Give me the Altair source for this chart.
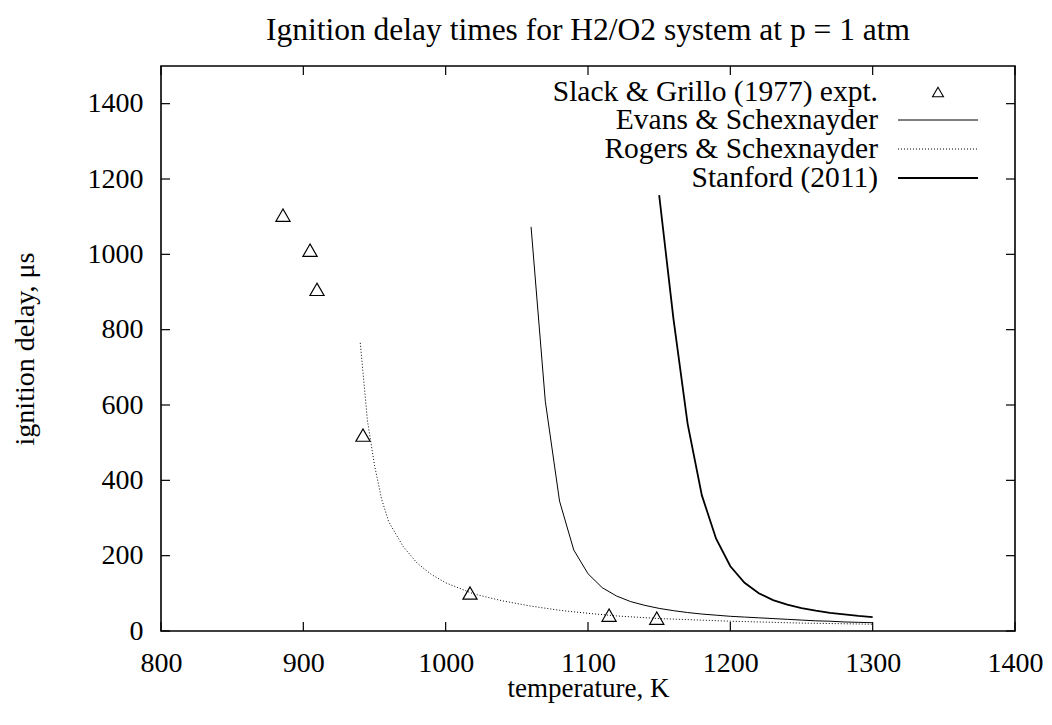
import altair as alt
import pandas as pd

W, H = 854, 565
FONT = "Liberation Serif"

# Slack & Grillo (1977) experimental points
slack_T = [885.7, 904.7, 909.6, 941.9, 1017.1, 1114.8, 1148.3]
slack_tau = [1104, 1011, 907, 520, 101, 42, 34]

# Evans & Schexnayder
evans_T = [1060, 1070, 1080, 1090, 1100, 1110, 1120, 1130, 1140, 1150, 1160, 1170,
           1180, 1190, 1200, 1210, 1220, 1230, 1240, 1250, 1260, 1270, 1280, 1290, 1300]
evans_tau = [1073, 610, 345, 215, 152, 115, 93, 78, 68, 60, 54, 49,
             45, 42, 39, 37, 35, 33, 31, 29, 27, 26, 24, 23, 22]

# Rogers & Schexnayder
rogers_T = [940, 945, 950, 955, 960, 970, 980, 990, 1000, 1020, 1040, 1060, 1080,
            1100, 1120, 1150, 1200, 1250, 1300]
rogers_tau = [765, 560, 440, 350, 290, 225, 180, 150, 128, 98, 80, 66, 55,
              47, 40, 33, 26, 21, 18]

# Stanford (2011)
stanford_T = [1150, 1160, 1170, 1180, 1190, 1200, 1210, 1220, 1230, 1240, 1250,
              1260, 1270, 1280, 1290, 1300]
stanford_tau = [1157, 830, 550, 360, 245, 172, 128, 100, 82, 70, 61, 54, 48, 44, 40, 37]

x_ticks = [800, 900, 1000, 1100, 1200, 1300, 1400]
y_ticks = [0, 200, 400, 600, 800, 1000, 1200, 1400]

legend_labels = ["Slack & Grillo (1977) expt.", "Evans & Schexnayder",
                 "Rogers & Schexnayder", "Stanford (2011)"]
title_text = "Ignition delay times for H2/O2 system at p = 1 atm"

xs = alt.Scale(domain=[800, 1400], nice=False, zero=False)
ys = alt.Scale(domain=[0, 1500], nice=False)

x_axis = alt.Axis(values=x_ticks, format="d", ticks=False, domain=False, grid=False,
                  labelFont=FONT, labelFontSize=28, labelColor="black", labelPadding=18,
                  labelFlush=False, labelOverlap=False,
                  title="temperature, K", titleFont=FONT, titleFontSize=27,
                  titleFontWeight="normal", titleColor="black",
                  titleX=W / 2, titleY=57, titleBaseline="middle", titleAlign="center")
y_axis = alt.Axis(values=y_ticks, format="d", ticks=False, domain=False, grid=False,
                  labelFont=FONT, labelFontSize=28, labelColor="black", labelPadding=18,
                  labelFlush=False, labelOverlap=False,
                  title="ignition delay, μs", titleFont=FONT, titleFontSize=28,
                  titleFontWeight="normal", titleColor="black",
                  titleX=-136, titleY=H / 2, titleBaseline="middle", titleAlign="center",
                  titleAngle=270)

def line_layer(T, tau, **style):
    df = pd.DataFrame({"T": T, "tau": tau})
    return alt.Chart(df).mark_line(color="black", **style).encode(
        x=alt.X("T:Q", scale=xs, axis=x_axis),
        y=alt.Y("tau:Q", scale=ys, axis=y_axis),
    )

evans = line_layer(evans_T, evans_tau, strokeWidth=1)
rogers = line_layer(rogers_T, rogers_tau, strokeWidth=1, strokeDash=[1, 2])
stanford = line_layer(stanford_T, stanford_tau, strokeWidth=1.8)

pts = alt.Chart(pd.DataFrame({"T": slack_T, "tau": slack_tau})).mark_point(
    shape="triangle-up", filled=False, color="black", strokeWidth=1.2, size=200, opacity=1
).encode(x=alt.X("T:Q", scale=xs, axis=x_axis), y=alt.Y("tau:Q", scale=ys, axis=y_axis))

# inside ticks on all four sides
xt = pd.DataFrame({"v": x_ticks})
yt = pd.DataFrame({"v": y_ticks})
tick_style = dict(color="black", strokeWidth=1.2)
tb = alt.Chart(xt).mark_rule(**tick_style).encode(
    x=alt.X("v:Q", scale=xs), y=alt.value(H), y2=alt.value(H - 9))
tt = alt.Chart(xt).mark_rule(**tick_style).encode(
    x=alt.X("v:Q", scale=xs), y=alt.value(0), y2=alt.value(9))
tl = alt.Chart(yt).mark_rule(**tick_style).encode(
    y=alt.Y("v:Q", scale=ys), x=alt.value(0), x2=alt.value(9))
tr = alt.Chart(yt).mark_rule(**tick_style).encode(
    y=alt.Y("v:Q", scale=ys), x=alt.value(W - 9), x2=alt.value(W))

# title as text above the plot
title = alt.Chart(pd.DataFrame({"t": [title_text]})).mark_text(
    align="center", baseline="alphabetic", font=FONT, fontSize=31.5, color="black"
).encode(text="t:N", x=alt.value(W / 2), y=alt.value(-26))

# legend (gnuplot style: label then sample)
row_y = [26, 54, 83, 112]
lx_text, lx0, lx1 = 717, 737, 817
legend_layers = []
for lab, yy in zip(legend_labels, row_y):
    legend_layers.append(
        alt.Chart(pd.DataFrame({"label": [lab]})).mark_text(
            align="right", baseline="middle", font=FONT, fontSize=29.5, color="black"
        ).encode(text="label:N", x=alt.value(lx_text), y=alt.value(yy))
    )
legend_layers.append(
    alt.Chart(pd.DataFrame({"label": [legend_labels[0]]})).mark_point(
        shape="triangle-up", filled=False, color="black", strokeWidth=1.1, size=120, opacity=1
    ).encode(x=alt.value((lx0 + lx1) / 2), y=alt.value(row_y[0]))
)
legend_layers.append(
    alt.Chart(pd.DataFrame({"label": [legend_labels[1]]})).mark_rule(color="black", strokeWidth=1)
    .encode(x=alt.value(lx0), x2=alt.value(lx1), y=alt.value(row_y[1]))
)
legend_layers.append(
    alt.Chart(pd.DataFrame({"label": [legend_labels[2]]})).mark_rule(
        color="black", strokeWidth=1, strokeDash=[1, 2])
    .encode(x=alt.value(lx0), x2=alt.value(lx1), y=alt.value(row_y[2]))
)
legend_layers.append(
    alt.Chart(pd.DataFrame({"label": [legend_labels[3]]})).mark_rule(color="black", strokeWidth=1.8)
    .encode(x=alt.value(lx0), x2=alt.value(lx1), y=alt.value(row_y[3]))
)

chart = alt.layer(
    rogers, evans, stanford, pts, tb, tt, tl, tr, title, *legend_layers
).properties(
    width=W, height=H,
    background="white",
    padding={"left": 153, "top": 58, "right": 29, "bottom": 86},
    autosize=alt.AutoSizeParams(type="none"),
).configure_view(stroke="black", strokeWidth=1.6)

chart.save("out.html", embed_options={"renderer": "svg", "actions": False})
